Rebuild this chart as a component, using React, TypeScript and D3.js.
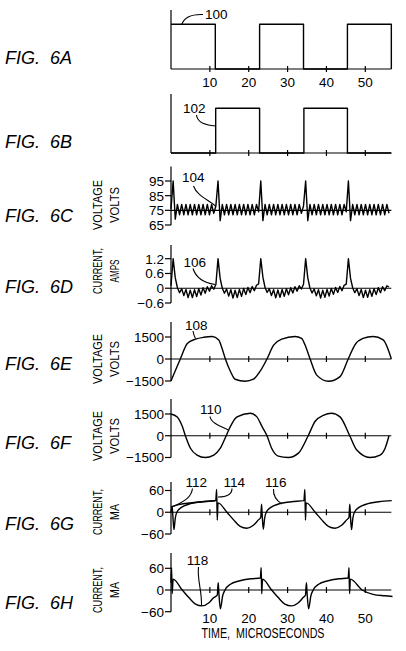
import React from "react";
import * as d3 from "d3";

// shared time axis (microseconds)
const TIME_END = 56.7;
const TIME_TICKS = [10, 20, 30, 40, 50];

// FIG 6A / 6B drive pulses: [time, level]
const PULSE_A: [number, number][] = [[0, 1], [11.4, 0], [22.8, 1], [34.1, 0], [45.4, 1], [56.7, 0]];
const PULSE_B: [number, number][] = [[0, 0], [11.5, 1], [22.8, 0], [34.2, 1], [45.4, 0], [56.7, 0]];

// FIG 6C / 6D are read as samples, one every SAMPLE_STEP microseconds
const SAMPLE_STEP = 0.55;
const VOLTAGE_C = [
  76, 95, 69, 79, 72, 79, 72, 79, 72, 79,
  72, 79, 72, 79, 72, 79, 72, 79, 72, 79,
  73, 78, 95, 68, 79, 72, 79, 72, 79, 72,
  79, 72, 79, 72, 79, 72, 79, 72, 79, 72,
  79, 74, 95, 68, 79, 72, 79, 72, 79, 72,
  79, 72, 79, 72, 79, 72, 79, 72, 79, 72,
  79, 73, 78, 95, 68, 79, 72, 79, 72, 79,
  72, 79, 72, 79, 72, 79, 72, 79, 72, 79,
  72, 79, 74, 95, 68, 79, 72, 79, 72, 79,
  72, 79, 72, 79, 72, 79, 72, 79, 72, 79,
  72, 79, 73,
];
const CURRENT_D = [
  0.1, 1.2,
  0.42, 0.02, -0.18, -0.02, -0.3, -0.05, -0.38, -0.08, -0.38, -0.06, -0.34, -0.02, -0.28, 0.02, -0.2, 0.06, -0.12, 0.1, -0.04, 0.15,
  1.2,
  0.4, 0.0, -0.2, -0.03, -0.32, -0.06, -0.4, -0.08, -0.38, -0.05, -0.33, -0.01, -0.26, 0.03, -0.18, 0.07, -0.1, 0.12, 0.18,
  1.2,
  0.45, 0.03, -0.17, -0.02, -0.3, -0.06, -0.39, -0.07, -0.37, -0.05, -0.33, -0.02, -0.27, 0.02, -0.19, 0.06, -0.12, 0.1, -0.03, 0.16,
  1.2,
  0.42, 0.01, -0.19, -0.03, -0.31, -0.06, -0.4, -0.08, -0.37, -0.05, -0.32, -0.01, -0.25, 0.03, -0.17, 0.07, -0.1, 0.12, 0.17,
  1.2,
  0.4, 0.02, -0.18, -0.02, -0.3, -0.05, -0.38, -0.08, -0.37, -0.06, -0.33, -0.02, -0.26, 0.02, -0.18, 0.06, -0.1, 0.1, 0.05,
];

// FIG 6E / 6F: [time, volts]
const VOLTAGE_E: [number, number][] = [
  [0, -1500], [2.4, 0], [4.2, 1050], [6.3, 1350], [8.4, 1480], [10.6, 1530], [12.3, 1300], [13.1, 750], [14, 0],
  [15.3, -850], [16.5, -1380], [19.1, -1520], [21.2, -1380], [22.9, -850], [24.7, 0], [26.4, 950], [28.5, 1350],
  [31.9, 1530], [33.6, 1400], [34.5, 950], [35.8, 0], [37.5, -1100], [40.5, -1520], [43.5, -1200], [45.6, 0],
  [47.3, 950], [49.4, 1400], [52, 1530], [54.6, 1300], [56.7, 0],
];
const VOLTAGE_F: [number, number][] = [
  [0, 1500], [1.6, 1300], [2.9, 650], [3.7, 0], [5, -860], [6.7, -1330], [8.8, -1500], [11, -1330], [12.7, -860],
  [14.2, 0], [15.3, 650], [17, 1300], [20.4, 1550], [22.1, 1300], [23.4, 650], [24.7, 0], [25.9, -860],
  [27.6, -1400], [30.2, -1500], [32.8, -1200], [35.3, 0], [37.1, 1000], [39.2, 1400], [41.3, 1550], [43.5, 1300],
  [46, 0], [47.7, -950], [51.2, -1500], [53.8, -1330], [55.1, -860], [56.1, 0],
];

// FIG 6G / 6H: [time, milliamps]
const CURRENT_G_LEAD: [number, number][] = [[0, 15], [2, 21], [5, 26], [8, 29], [11.4, 32]];
const CURRENT_G: [number, number][] = [
  [0, 0], [0.3, 16], [0.45, -5], [0.75, -48], [1.1, -16], [1.5, 0], [2.8, 14], [4.5, 22], [8, 29], [11.5, 32],
  [11.75, 63], [11.9, -22], [12.1, 26], [14.4, 0], [16.1, -21], [17.8, -39], [19.5, -44], [21.2, -36], [22.5, -21], [23.1, -14],
  [23.3, 22], [23.45, -5], [23.75, -47], [24.1, -16], [24.5, 0], [25.8, 14], [27.5, 22], [31, 29], [34.2, 32],
  [34.45, 63], [34.6, -22], [34.8, 26], [37.1, 0], [38.8, -21], [40.5, -39], [42.2, -44], [43.9, -36], [45.2, -21], [45.8, -14],
  [46, 22], [46.15, -5], [46.45, -48], [46.8, -16], [47.2, 0], [48.5, 14], [50.2, 22], [53.5, 29], [56.8, 32],
];
const CURRENT_H: [number, number][] = [
  [0, 20], [0.15, 62], [0.3, -10], [0.55, 30], [2.9, 0], [4.6, -21], [6.3, -39], [8, -44], [9.7, -36], [11, -21], [11.9, -14],
  [12.15, 20], [12.3, -5], [12.7, -52], [13.3, -16], [13.9, 0], [15.3, 16], [17.5, 25], [20.5, 31], [23, 33],
  [23.2, 62], [23.35, -10], [23.55, 30], [25.9, 0], [27.6, -21], [29.3, -39], [31, -44], [32.7, -36], [34, -21], [34.6, -14],
  [34.85, 20], [35, -5], [35.4, -52], [36, -16], [36.6, 0], [38, 16], [40.2, 25], [43.2, 31], [45.6, 33],
  [45.8, 62], [45.95, -10], [46.15, 30], [49.2, 0], [52, -12], [55, -16], [57, -18],
];

const TICKS_C = [95, 85, 75, 65];
const TICKS_D = [1.2, 0.6, 0, -0.6];
const TICKS_KV = [1500, 0, -1500];
const TICKS_MA = [60, 0, -60];

const sampled = (vals: number[]): [number, number][] => vals.map((v, i) => [i * SAMPLE_STEP, v]);
const fmt = (v: number) => (v < 0 ? "\u2212" + Math.abs(v) : String(v));

const x = d3.scaleLinear().domain([0, 50]).range([171, 365.3]);

const NUM = { fontFamily: "'Liberation Sans', Arial, sans-serif", fontSize: 13.5 };
const FIG = { fontFamily: "'Liberation Sans', Arial, sans-serif", fontSize: 18, fontStyle: "italic" };
const TITLE = { fontFamily: "'Liberation Sans', Arial, sans-serif", fontSize: 13 };
const TITLE_LEN: Record<string, number> = { "VOLTAGE": 50, "VOLTS": 36, "CURRENT,": 46, "AMPS": 23, "MA": 16 };

const PANELS = [
  { fig: "6A", figY: 63.5, domain: [0, 1], range: [69, 24.3], axisTop: 10, base: 0, series: [PULSE_A], curve: d3.curveStepAfter, xTicks: true, xLabelsY: 87 },
  { fig: "6B", figY: 147.5, domain: [0, 1], range: [153, 108.3], axisTop: 94, base: 0, series: [PULSE_B], curve: d3.curveStepAfter, xTicks: true },
  { fig: "6C", figY: 221.5, domain: [65, 95], range: [225, 181], axisTop: 166.5, base: 75, yTicks: TICKS_C, title: ["VOLTAGE", "VOLTS"], titleY: 205, series: [sampled(VOLTAGE_C)], curve: d3.curveLinear },
  { fig: "6D", figY: 293, domain: [-0.6, 1.2], range: [303, 258.7], axisTop: 245, base: 0, yTicks: TICKS_D, title: ["CURRENT,", "AMPS"], titleY: 271, series: [sampled(CURRENT_D)], curve: d3.curveLinear },
  { fig: "6E", figY: 369.5, domain: [-1500, 1500], range: [381, 337], axisTop: 322, base: 0, yTicks: TICKS_KV, title: ["VOLTAGE", "VOLTS"], titleY: 359, series: [VOLTAGE_E], curve: d3.curveMonotoneX, xTicks: true },
  { fig: "6F", figY: 448.5, domain: [-1500, 1500], range: [457.5, 414], axisTop: 399, base: 0, yTicks: TICKS_KV, title: ["VOLTAGE", "VOLTS"], titleY: 436, series: [VOLTAGE_F], curve: d3.curveMonotoneX, xTicks: true },
  { fig: "6G", figY: 530, domain: [-60, 60], range: [534, 490.5], axisTop: 482, base: 0, yTicks: TICKS_MA, title: ["CURRENT,", "MA"], titleY: 512, series: [CURRENT_G_LEAD, CURRENT_G], curve: d3.curveMonotoneX, xTicks: true },
  { fig: "6H", figY: 608.5, domain: [-60, 60], range: [611.7, 568.3], axisTop: 553, base: 0, yTicks: TICKS_MA, title: ["CURRENT,", "MA"], titleY: 590, series: [CURRENT_H], curve: d3.curveMonotoneX, xTicks: true, xLabelsY: 623 },
];

// reference numerals and their leader lines
const REFS = [
  { text: "100", x: 205, y: 18.5, d: "M181.7,24.5 C184,18 190,14 203,14.5" },
  { text: "102", x: 183, y: 113, d: "M196.5,115 C197,121 203,125 215.5,126" },
  { text: "104", x: 182, y: 181.5, d: "M193.5,186 C197,196 209,200 215.5,206" },
  { text: "106", x: 183.5, y: 266.5, d: "M193,268.5 C196,278 205,283 215,284.5" },
  { text: "108", x: 185, y: 329.5, d: "M193,331 C193.5,334 194,336 195.5,338.5" },
  { text: "110", x: 200, y: 413.5, d: "M210,416.5 C211,423 220,426 228.5,430" },
  { text: "112", x: 185.5, y: 486.7, d: "M192.5,488.5 C191,499 182,502 173.5,506.5" },
  { text: "114", x: 223.5, y: 486.7, d: "M232,488.5 C232,495 226,497 218,497" },
  { text: "116", x: 265, y: 486.7, d: "M273.5,489 C273,497 277,501 282,504" },
  { text: "118", x: 186.7, y: 565, d: "M198.5,567 C197,580 202,590 201.5,606" },
];

function Panel(p: any) {
  const y = d3.scaleLinear().domain(p.domain).range(p.range);
  const line = d3.line<[number, number]>().x(d => x(d[0])).y(d => y(d[1])).curve(p.curve);
  const x0 = x(0);
  const yb = y(p.base);
  return (
    <g>
      <text x={5} y={p.figY} style={FIG}>FIG.</text>
      <text x={50} y={p.figY} style={FIG}>{p.fig}</text>
      {p.title && p.title.map((t: string, i: number) => (
        <text key={t} transform={`translate(${101.5 + i * 17},${p.titleY}) rotate(-90)`} textAnchor="middle"
              textLength={TITLE_LEN[t]} lengthAdjust="spacingAndGlyphs" style={TITLE}>{t}</text>
      ))}
      <line x1={x0} x2={x0} y1={p.axisTop} y2={p.range[0]} stroke="#000" strokeWidth={1.2}/>
      <line x1={x0} x2={x(TIME_END)} y1={yb} y2={yb} stroke="#000" strokeWidth={1.2}/>
      {p.yTicks && p.yTicks.map((v: number) => (
        <g key={v} transform={`translate(${x0},${y(v)})`}>
          <line x1={-6} x2={0} stroke="#000" strokeWidth={1.2}/>
          <text x={-7} dy="0.36em" textAnchor="end" style={NUM}>{fmt(v)}</text>
        </g>
      ))}
      {p.xTicks && TIME_TICKS.map(t => (
        <line key={t} x1={x(t)} x2={x(t)} y1={yb - 3} y2={yb + 3} stroke="#000" strokeWidth={1.2}/>
      ))}
      {p.xLabelsY && TIME_TICKS.map(t => (
        <text key={t} x={x(t)} y={p.xLabelsY} textAnchor="middle" style={NUM}>{t}</text>
      ))}
      {p.series.map((s: [number, number][], i: number) => (
        <path key={i} d={line(s) || ""} fill="none" stroke="#000" strokeWidth={1.4} strokeLinejoin="round"/>
      ))}
    </g>
  );
}

export default function App() {
  return (
    <svg width={406} height={651} style={{ position: "absolute", left: 0, top: 0, background: "#fff" }}>
      <rect width={406} height={651} fill="#fff"/>
      {PANELS.map(p => <Panel key={p.fig} {...p}/>)}
      {REFS.map(r => (
        <g key={r.text}>
          <text x={r.x} y={r.y} style={NUM}>{r.text}</text>
          <path d={r.d} fill="none" stroke="#000" strokeWidth={1.1}/>
        </g>
      ))}
      <text x={263} y={638} textAnchor="middle" textLength={123} lengthAdjust="spacingAndGlyphs"
            style={{ ...TITLE, fontSize: 14, whiteSpace: "pre" }}>TIME,  MICROSECONDS</text>
    </svg>
  );
}
